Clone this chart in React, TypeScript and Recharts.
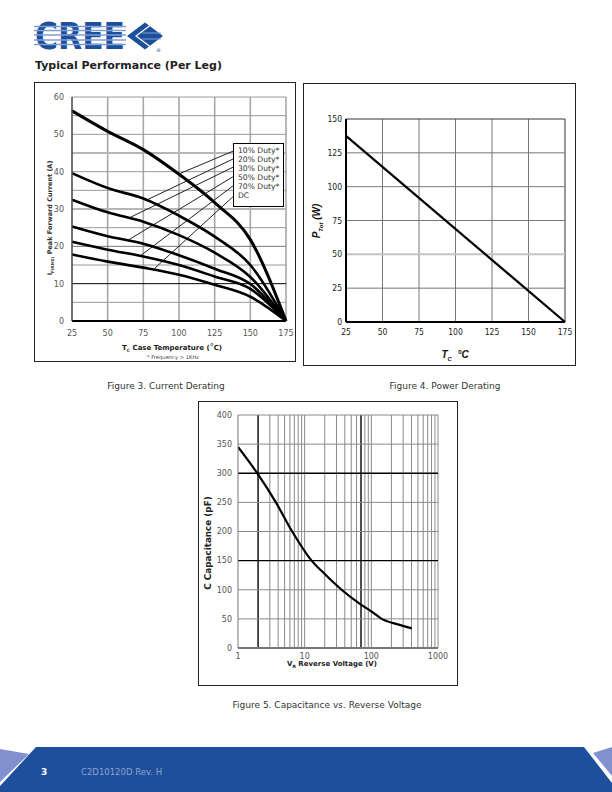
import React from 'react';
import { LineChart, Line, XAxis, YAxis, ReferenceLine } from 'recharts';

// ---------- Figure 3: Current derating ----------
const caseTemps = [25, 50, 75, 100, 125, 150, 175];
const duty10 = [56.3, 50.8, 45.9, 39.3, 31.7, 21.8, 0];
const duty20 = [39.6, 35.6, 32.8, 28.2, 22.6, 15.0, 0];
const duty30 = [32.5, 29.1, 26.6, 23.0, 18.3, 11.8, 0];
const duty50 = [25.3, 22.7, 20.7, 17.6, 14.0, 9.9, 0];
const duty70 = [21.2, 19.1, 17.3, 15.0, 11.9, 8.6, 0];
const dutyDC = [17.8, 15.9, 14.3, 12.4, 9.7, 6.5, 0];
const legendLabels = ['10% Duty*', '20% Duty*', '30% Duty*', '50% Duty*', '70% Duty*', 'DC'];
const leaderStartX = 137.9;
const leaderStartY = [45.5, 43.4, 41.2, 38.65, 36.2, 33.3];
const leaderEndX = [100.7, 76.2, 64.5, 64.5, 72.7, 83.2];
const leaderEndY = [39.5, 32.2, 27.5, 21.7, 17.4, 14.2];
const fig3XTicks = [25, 50, 75, 100, 125, 150, 175];
const fig3YTicks = [0, 10, 20, 30, 40, 50, 60];
const fig3GridY = [5, 10, 15, 20, 25, 30, 35, 40, 45, 50, 55, 60];
const fig3GridX = [50, 75, 100, 125, 150, 175];

// ---------- Figure 4: Power derating ----------
const powerTemps = [25, 175];
const powerTot = [137.5, 0];
const fig4XTicks = [25, 50, 75, 100, 125, 150, 175];
const fig4YTicks = [0, 25, 50, 75, 100, 125, 150];

// ---------- Figure 5: Capacitance vs reverse voltage ----------
const reverseVoltage = [1, 2, 3.7, 6.5, 12.7, 20, 35.8, 69, 100, 143, 250, 404];
const capacitance = [345, 298, 250, 200, 150, 127, 100, 75, 63, 50, 40.5, 33.7];
const fig5XTicks = [1, 10, 100, 1000];
const fig5YTicks = [0, 50, 100, 150, 200, 250, 300, 350, 400];
const fig5GridX = [2, 3, 4, 5, 6, 7, 8, 9, 10, 20, 30, 40, 50, 60, 70, 80, 90, 100, 200, 300, 400, 500, 600, 700, 800, 900, 1000];
const fig5DarkX = [2, 70];
const fig5GridY = [50, 100, 150, 200, 250, 300, 350, 400];
const fig5DarkY = [150, 300];

const FONT = "'DejaVu Sans', Verdana, sans-serif";
const NARROW = "'Liberation Sans Narrow', 'DejaVu Sans Condensed', 'Arial Narrow', sans-serif";

const fig3Data = caseTemps.map((t, i) => ({
  t,
  d10: duty10[i],
  d20: duty20[i],
  d30: duty30[i],
  d50: duty50[i],
  d70: duty70[i],
  dc: dutyDC[i],
}));
const fig4Data = powerTemps.map((t, i) => ({ t, p: powerTot[i] }));
const fig5Data = reverseVoltage.map((v, i) => ({ v, c: capacitance[i] }));

const tick3 = { fontSize: 8, fill: '#555', fontFamily: FONT };
const tick4 = { fontSize: 8.5, fill: '#222', fontFamily: NARROW };

function gridColor3(v: number) {
  if (v === 10) return { stroke: '#000', w: 1 };
  if (v === 30 || v === 45) return { stroke: '#b5b5b5', w: 2 };
  if (v === 20) return { stroke: '#777', w: 1 };
  return { stroke: '#9a9a9a', w: 1 };
}

function Figure3() {
  const seriesKeys = ['d10', 'd20', 'd30', 'd50', 'd70', 'dc'];
  return (
    <LineChart width={261} height={279} data={fig3Data} margin={{ top: 15, right: 9, left: 0, bottom: 0 }}>
      {fig3GridX.map((x) => (
        <ReferenceLine key={'gx' + x} x={x} stroke="#a8a8a8" strokeWidth={1.6} />
      ))}
      {fig3GridY.map((y) => {
        const g = gridColor3(y);
        return <ReferenceLine key={'gy' + y} y={y} stroke={g.stroke} strokeWidth={g.w} />;
      })}
      {leaderStartY.map((sy, i) => (
        <ReferenceLine
          key={'ld' + i}
          segment={[
            { x: leaderStartX, y: sy },
            { x: leaderEndX[i], y: leaderEndY[i] },
          ]}
          stroke="#222"
          strokeWidth={1}
        />
      ))}
      <XAxis
        dataKey="t"
        type="number"
        domain={[25, 175]}
        ticks={fig3XTicks}
        interval={0}
        tickLine={false}
        axisLine={{ stroke: '#000', strokeWidth: 2 }}
        height={40}
        tick={tick3}
        tickMargin={3}
      />
      <YAxis
        type="number"
        domain={[0, 60]}
        ticks={fig3YTicks}
        interval={0}
        tickLine={false}
        axisLine={{ stroke: '#444', strokeWidth: 1.5 }}
        width={38}
        tick={tick3}
      />
      {seriesKeys.map((k, i) => (
        <Line
          key={k}
          dataKey={k}
          type="monotone"
          stroke="#000"
          strokeWidth={i === 0 ? 3 : 2.6}
          dot={false}
          isAnimationActive={false}
        />
      ))}
    </LineChart>
  );
}

function Figure4() {
  return (
    <LineChart width={273} height={283} data={fig4Data} margin={{ top: 36, right: 11, left: 0, bottom: 0 }}>
      {fig4XTicks.slice(1).map((x) => (
        <ReferenceLine key={'gx' + x} x={x} stroke={x === 175 ? '#333' : '#777'} strokeWidth={1} />
      ))}
      {fig4YTicks.slice(1).map((y) => (
        <ReferenceLine
          key={'gy' + y}
          y={y}
          stroke={y === 50 ? '#c4c4c4' : y === 150 ? '#333' : '#777'}
          strokeWidth={y === 50 ? 2 : 1}
        />
      ))}
      <XAxis
        dataKey="t"
        type="number"
        domain={[25, 175]}
        ticks={fig4XTicks}
        interval={0}
        tickLine={false}
        axisLine={{ stroke: '#000', strokeWidth: 2 }}
        height={44}
        tick={tick4}
        tickMargin={1}
      />
      <YAxis
        type="number"
        domain={[0, 150]}
        ticks={fig4YTicks}
        interval={0}
        tickLine={false}
        axisLine={{ stroke: '#000', strokeWidth: 2 }}
        width={43}
        tick={tick4}
        tickMargin={-2}
      />
      <Line dataKey="p" type="linear" stroke="#000" strokeWidth={2.2} dot={false} isAnimationActive={false} />
    </LineChart>
  );
}

function Figure5() {
  return (
    <LineChart width={260} height={284} data={fig5Data} margin={{ top: 13, right: 20, left: 0, bottom: 0 }}>
      {fig5GridX.map((x) => (
        <ReferenceLine
          key={'gx' + x}
          x={x}
          stroke={fig5DarkX.includes(x) ? '#000' : '#8a8a8a'}
          strokeWidth={fig5DarkX.includes(x) ? 1.4 : 1}
        />
      ))}
      {fig5GridY.map((y) => (
        <ReferenceLine
          key={'gy' + y}
          y={y}
          stroke={fig5DarkY.includes(y) ? '#000' : '#8a8a8a'}
          strokeWidth={fig5DarkY.includes(y) ? 1.4 : 1}
        />
      ))}
      <XAxis
        dataKey="v"
        type="number"
        scale="log"
        domain={[1, 1000]}
        ticks={fig5XTicks}
        interval={0}
        allowDataOverflow
        tickLine={false}
        axisLine={{ stroke: '#777', strokeWidth: 2 }}
        height={38}
        tick={tick3}
        tickMargin={-1}
      />
      <YAxis
        type="number"
        domain={[0, 400]}
        ticks={fig5YTicks}
        interval={0}
        tickLine={false}
        axisLine={{ stroke: '#777', strokeWidth: 1 }}
        width={40}
        tick={tick3}
        tickMargin={0}
      />
      <Line dataKey="c" type="monotone" stroke="#000" strokeWidth={2.2} dot={false} isAnimationActive={false} />
    </LineChart>
  );
}

const abs = (left: number, top: number, extra: React.CSSProperties = {}): React.CSSProperties => ({
  position: 'absolute',
  left,
  top,
  ...extra,
});

function Logo() {
  const stripes = [26.5, 30.5, 35, 40, 44.5];
  return (
    <svg width={140} height={48} style={abs(30, 12)}>
      <text
        x={5}
        y={37}
        fontFamily="'DejaVu Sans', sans-serif"
        fontWeight={900}
        fontSize={37}
        fill="#1d4f9b"
        textLength={90}
        lengthAdjust="spacingAndGlyphs"
      >
        CREE
      </text>
      {stripes.map((s) => (
        <line key={s} x1={4} x2={96} y1={s - 12} y2={s - 12} stroke="#7f9fd4" strokeWidth={1.3} />
      ))}
      <polygon points="97,24 115,10.5 133,24 115,37.5" fill="#1d4f9b" />
      <polyline points="122,12 106,24 122,36" fill="none" stroke="#fff" strokeWidth={1.2} />
      <line x1={112} x2={131} y1={21} y2={21} stroke="#7f9fd4" strokeWidth={1} />
      <line x1={112} x2={131} y1={27} y2={27} stroke="#7f9fd4" strokeWidth={1} />
      <text x={126} y={40} fontSize={5} fill="#1d4f9b" fontFamily={FONT}>®</text>
    </svg>
  );
}

function Footer() {
  return (
    <svg width={612} height={46} style={abs(0, 746)}>
      <polygon points="36,1 584,1 612,37 612,46 0,46 0,40" fill="#1e4f9c" />
      <polygon points="0,3 29,8 0,36" fill="#8191d0" />
      <polygon points="612,1 593,7 612,30" fill="#8191d0" />
      <text x={41} y={29} fontSize={9} fontWeight="bold" fill="#fff" fontFamily={FONT}>3</text>
      <text x={81} y={29} fontSize={8.5} fill="#8ea2cc" fontFamily={FONT}>C2D10120D Rev. H</text>
    </svg>
  );
}

export default function App() {
  const frame: React.CSSProperties = { border: '1px solid #222', boxSizing: 'border-box', background: '#fff' };
  return (
    <div style={{ position: 'absolute', left: 0, top: 0, width: 612, height: 792, background: '#fff', fontFamily: FONT, color: '#222', overflow: 'hidden' }}>
      <Logo />
      <div style={abs(35, 59, { fontSize: 11, fontWeight: 'bold', color: '#222', whiteSpace: 'nowrap' })}>
        Typical Performance (Per Leg)
      </div>

      {/* Figure 3 */}
      <div style={abs(34, 82, { ...frame, width: 262, height: 280 })} />
      <div style={abs(34, 82)}>
        <Figure3 />
      </div>
      <div style={abs(233, 143, { width: 51, height: 64, border: '1px solid #000', boxSizing: 'border-box', background: '#fff', fontSize: 7.6, lineHeight: '9px', color: '#333', padding: '2px 0 0 4px', whiteSpace: 'nowrap' })}>
        {legendLabels.map((l) => (
          <div key={l}>{l}</div>
        ))}
      </div>
      <div style={abs(50, 218, { transform: 'translate(-50%,-50%) rotate(-90deg)', fontSize: 6.5, fontWeight: 'bold', color: '#333', whiteSpace: 'nowrap' })}>
        I<span style={{ fontSize: 4, position: 'relative', top: 2 }}>F(RMS)</span> Peak Forward Current (A)
      </div>
      <div style={abs(172, 347, { transform: 'translate(-50%,-50%)', fontSize: 7, fontWeight: 'bold', color: '#222', whiteSpace: 'nowrap' })}>
        T<span style={{ fontSize: 4.5, position: 'relative', top: 2 }}>C</span> Case Temperature (<span style={{ fontWeight: 'normal', fontSize: 8 }}>°</span>C)
      </div>
      <div style={abs(173, 356.5, { transform: 'translate(-50%,-50%)', fontSize: 5.2, color: '#444', whiteSpace: 'nowrap' })}>
        * Frequency &gt; 1KHz
      </div>

      {/* Figure 4 */}
      <div style={abs(303, 83, { ...frame, width: 273, height: 283 })} />
      <div style={abs(303, 83)}>
        <Figure4 />
      </div>
      <div style={abs(316, 221, { transform: 'translate(-50%,-50%) rotate(-90deg)', fontSize: 10, fontWeight: 'bold', fontStyle: 'italic', color: '#111', whiteSpace: 'nowrap', fontFamily: "'Liberation Sans', Arial, sans-serif" })}>
        P<span style={{ fontSize: 6, position: 'relative', top: 3 }}>Tot</span> (W)
      </div>
      <div style={abs(455, 354, { transform: 'translate(-50%,-50%)', fontSize: 10, fontWeight: 'bold', fontStyle: 'italic', color: '#111', whiteSpace: 'nowrap', fontFamily: "'Liberation Sans', Arial, sans-serif" })}>
        T<span style={{ fontSize: 6, position: 'relative', top: 3 }}>C</span>{'\u00a0\u00a0'}°C
      </div>

      {/* Captions */}
      <div style={abs(166, 386, { transform: 'translate(-50%,-50%)', fontSize: 9, color: '#333', whiteSpace: 'nowrap' })}>
        Figure 3. Current Derating
      </div>
      <div style={abs(445, 386, { transform: 'translate(-50%,-50%)', fontSize: 9, color: '#333', whiteSpace: 'nowrap' })}>
        Figure 4. Power Derating
      </div>

      {/* Figure 5 */}
      <div style={abs(198, 401, { ...frame, width: 260, height: 285 })} />
      <div style={abs(198, 402)}>
        <Figure5 />
      </div>
      <div style={abs(208, 543, { transform: 'translate(-50%,-50%) rotate(-90deg)', fontSize: 8.8, fontWeight: 'bold', color: '#222', whiteSpace: 'nowrap' })}>
        C Capacitance (pF)
      </div>
      <div style={abs(332, 664, { transform: 'translate(-50%,-50%)', fontSize: 7, fontWeight: 'bold', color: '#222', whiteSpace: 'nowrap' })}>
        V<span style={{ fontSize: 4.5, position: 'relative', top: 2 }}>R</span> Reverse Voltage (V)
      </div>
      <div style={abs(327, 705, { transform: 'translate(-50%,-50%)', fontSize: 9, color: '#333', whiteSpace: 'nowrap' })}>
        Figure 5. Capacitance vs. Reverse Voltage
      </div>

      <Footer />
    </div>
  );
}
